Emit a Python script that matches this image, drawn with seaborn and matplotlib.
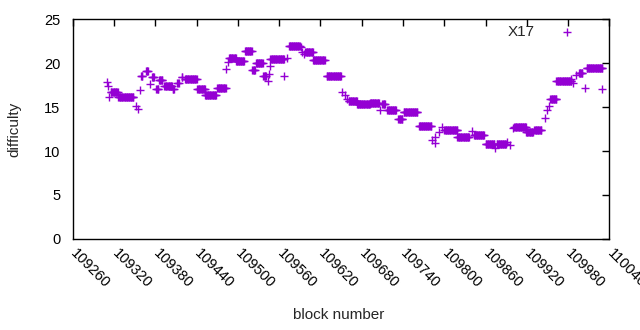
import numpy as np
import pandas as pd
import matplotlib
matplotlib.use("Agg")
import matplotlib.pyplot as plt
import seaborn as sns

# runs of blocks sharing the same difficulty (start block, end block, value)
run_start = [109315, 109326, 109359, 109366, 109375, 109381, 109385, 109393, 109405,
             109412, 109418, 109423, 109441, 109452, 109470, 109487, 109497, 109510,
             109521, 109526, 109537, 109547, 109574, 109598, 109609, 109629, 109661,
             109673, 109692, 109710, 109717, 109733, 109741, 109763, 109800, 109819,
             109843, 109860, 109876, 109902, 109919, 109931, 109954, 109963, 109996,
             110007]
run_end = [109325, 109348, 109361, 109369, 109378, 109384, 109390, 109404, 109407,
           109414, 109419, 109440, 109452, 109468, 109482, 109497, 109509, 109520,
           109525, 109536, 109541, 109567, 109590, 109609, 109626, 109650, 109673,
           109692, 109705, 109714, 109730, 109739, 109761, 109781, 109819, 109836,
           109858, 109873, 109890, 109919, 109929, 109941, 109963, 109985, 110001,
           110030]
run_value = [16.7, 16.1, 18.5, 19.1, 18.4, 17.0, 18.1, 17.35, 17.1,
             17.7, 18.4, 18.15, 17.0, 16.4, 17.2, 20.6, 20.2, 21.4,
             19.2, 20.0, 18.5, 20.5, 22.0, 21.3, 20.3, 18.5, 15.65,
             15.3, 15.5, 15.4, 14.7, 13.6, 14.4, 12.8, 12.35, 11.6,
             11.8, 10.75, 10.8, 12.7, 12.15, 12.4, 15.9, 17.95, 18.9,
             19.4]

# isolated blocks
single_block = [109310, 109311, 109313, 109351, 109354, 109357, 109372, 109482, 109485,
                109543, 109545, 109547, 109567, 109571, 109591, 109593, 109596, 109652,
                109655, 109659, 109707, 109782, 109786, 109787, 109792, 109797, 109841,
                109874, 109891, 109895, 109900, 109946, 109949, 109952, 109984, 109987,
                109992, 110004, 110030]
single_value = [17.8, 17.4, 16.2, 15.1, 14.8, 16.9, 17.6, 19.3, 20.1,
                18.0, 18.8, 19.7, 18.5, 20.6, 21.8, 21.3, 21.0, 16.7,
                16.4, 15.9, 14.7, 11.3, 10.9, 11.6, 12.2, 12.75, 12.3,
                10.3, 11.05, 10.7, 12.6, 13.7, 14.65, 15.1, 18.2, 17.7,
                18.6, 17.2, 17.1]

blocks = []
vals = []
for s, e, v in zip(run_start, run_end, run_value):
    for b in range(s, e + 1):
        blocks.append(b)
        vals.append(v)
blocks += single_block
vals += single_value
df = pd.DataFrame({'block': blocks, 'difficulty': vals})

sns.set_style('white')
plt.rcParams['font.family'] = ['Liberation Sans', 'DejaVu Sans']
plt.rcParams['xtick.direction'] = 'in'
plt.rcParams['ytick.direction'] = 'in'

fig = plt.figure(figsize=(6.4, 3.3), dpi=100)
ax = fig.add_axes([0.114, 0.276, 0.838, 0.666])
sns.scatterplot(data=df, x='block', y='difficulty', marker='+', color='#9400d3',
                s=30, linewidth=1, label='X17', ax=ax)

ax.set_xlim(109260, 110040)
ax.set_ylim(0, 25)
ax.set_xticks(np.arange(109260, 110041, 60))
ax.set_yticks(np.arange(0, 26, 5))
ax.tick_params(axis='both', labelsize=10.5, length=5, width=1, colors='black',
               top=True, right=True)
ax.tick_params(axis='y', pad=9)
for lab in ax.get_xticklabels():
    lab.set_rotation(-45)
    lab.set_ha('left')
    lab.set_va('center')
    lab.set_rotation_mode('anchor')
ax.tick_params(axis='x', pad=9)
for sp in ax.spines.values():
    sp.set_color('black')
    sp.set_linewidth(1)
ax.set_xlabel('block number', fontsize=11)
ax.set_ylabel('difficulty', fontsize=11)
ax.yaxis.set_label_coords(-0.097, 0.5)
ax.xaxis.set_label_coords(0.496, -0.314)
ax.legend(loc='upper right', bbox_to_anchor=(0.970, 1.023), frameon=False,
          markerfirst=False, fontsize=11, handletextpad=1.1, borderaxespad=0.3)

fig.savefig('out.png', dpi=100)
